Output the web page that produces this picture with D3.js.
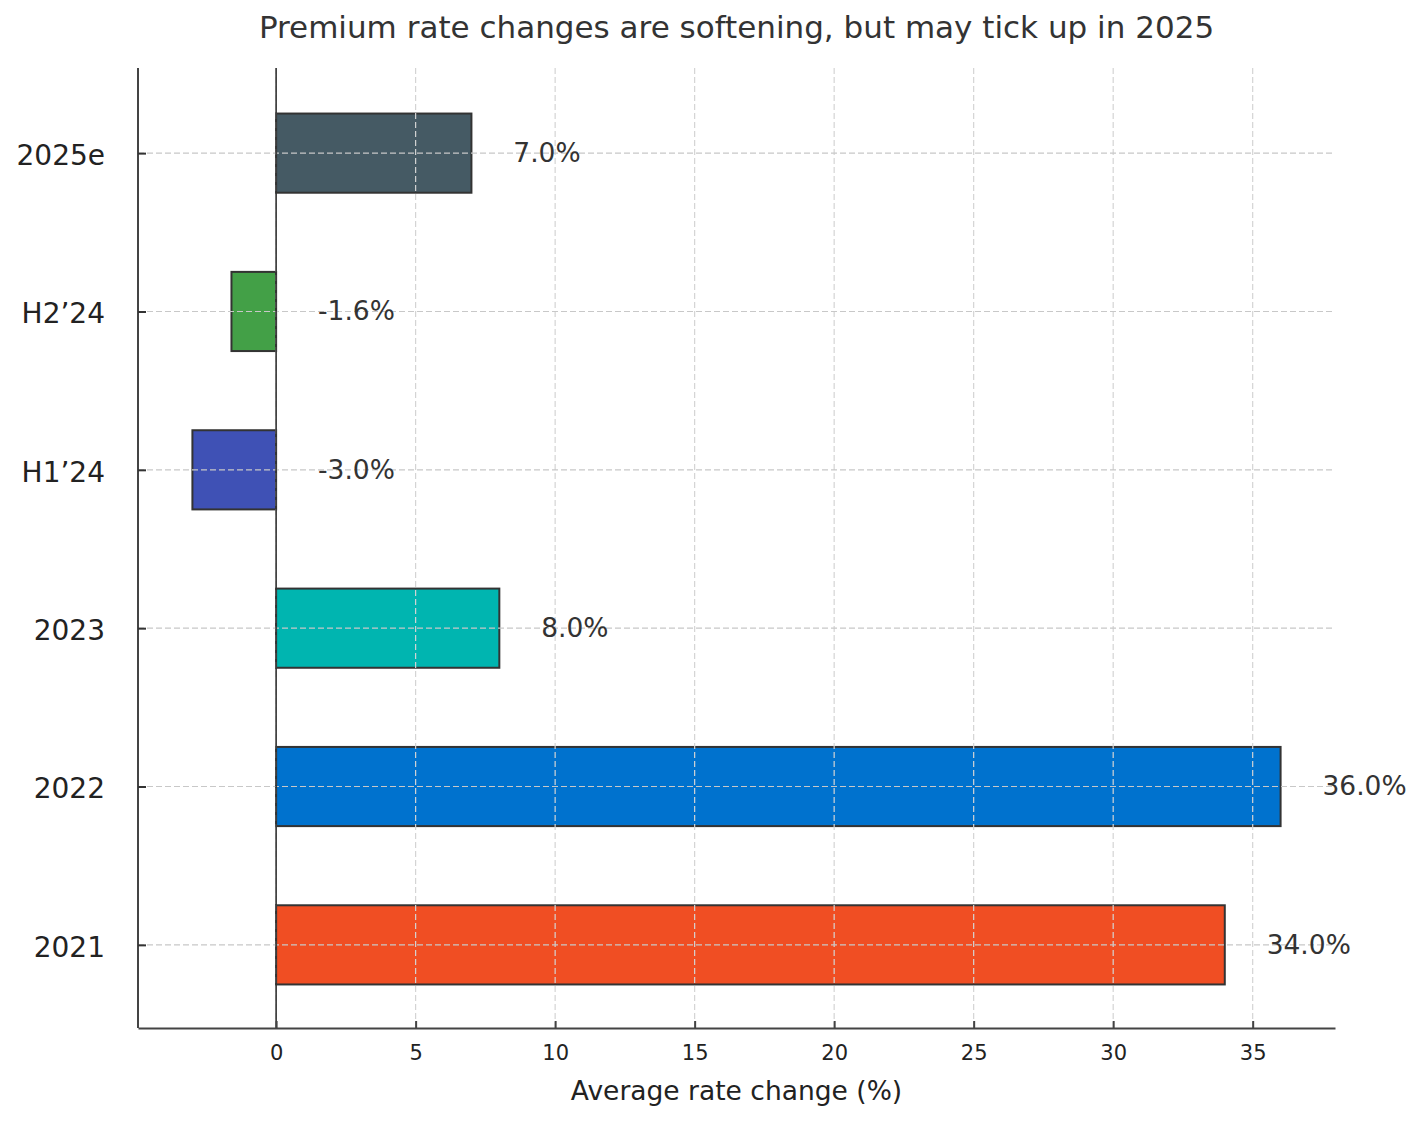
<!DOCTYPE html>
<head>
  <meta charset="utf-8">
  <title>Premium rate changes</title>
  <script src="https://d3js.org/d3.v7.min.js"></script>
  <style>
    body { margin: 0; background: #fff; }
    text { font-family: "DejaVu Sans", sans-serif; }
  </style>
</head>
<body>
  <svg width="1423" height="1121"></svg>

  <script>
  // data, bottom to top
  var periods = ["2021", "2022", "2023", "H1\u201924", "H2\u201924", "2025e"];
  var rates = [34, 36, 8, -3.0, -1.6, 7];
  var barColors = ["#f04e23", "#0072ce", "#00b5b0", "#3f51b5", "#43a047", "#455a64"];
  var xTicks = [0, 5, 10, 15, 20, 25, 30, 35];

  var svg = d3.select("svg");
  var mLeft = 138, mRight = 1335, mTop = 70, mBottom = 1028;

  var x = d3.scaleLinear()
      .domain([-4.95, 37.95])
      .range([mLeft, mRight]);

  // index positions like matplotlib barh
  var y = d3.scaleLinear()
      .domain([-0.525, periods.length - 1 + 0.525])
      .range([mBottom, mTop]);
  var barH = y(0) - y(0.5);

  // bars
  svg.append("g")
    .selectAll("rect")
    .data(rates)
    .enter().append("rect")
      .attr("x", function(d) { return x(Math.min(0, d)); })
      .attr("y", function(d, i) { return y(i) - barH / 2; })
      .attr("width", function(d) { return Math.abs(x(d) - x(0)); })
      .attr("height", barH)
      .attr("fill", function(d, i) { return barColors[i]; })
      .attr("stroke", "#333")
      .attr("stroke-width", 2);

  // grid (drawn over the bars, like the reference)
  var grid = svg.append("g").attr("class", "grid");
  grid.selectAll("line.v")
    .data(xTicks)
    .enter().append("line")
      .attr("class", "v")
      .attr("x1", function(d) { return x(d); })
      .attr("x2", function(d) { return x(d); })
      .attr("y1", mTop - 2).attr("y2", mBottom)
      .attr("stroke", "#d4d4d4")
      .attr("stroke-width", 1.2)
      .attr("stroke-dasharray", "6,3");
  grid.selectAll("line.h")
    .data(periods)
    .enter().append("line")
      .attr("class", "h")
      .attr("x1", mLeft).attr("x2", mRight)
      .attr("y1", function(d, i) { return y(i); })
      .attr("y2", function(d, i) { return y(i); })
      .attr("stroke", "#c8c8c8")
      .attr("stroke-width", 1.2)
      .attr("stroke-dasharray", "6,3");

  // zero line
  svg.append("line")
      .attr("x1", x(0)).attr("x2", x(0))
      .attr("y1", mTop - 2).attr("y2", mBottom)
      .attr("stroke", "#333")
      .attr("stroke-width", 1.6);

  // value labels
  svg.append("g")
    .selectAll("text")
    .data(rates)
    .enter().append("text")
      .attr("x", function(d) { return x(Math.max(d, 0) + 1.5); })
      .attr("y", function(d, i) { return y(i); })
      .attr("dy", "0.33em")
      .attr("font-size", 26.5)
      .attr("fill", "#333")
      .text(function(d) { return d.toFixed(1) + "%"; });

  // axes
  var xAxis = svg.append("g")
      .attr("transform", "translate(0," + mBottom + ")")
      .call(d3.axisBottom(x).tickValues(xTicks).tickSizeInner(-7).tickSizeOuter(0).tickPadding(17));
  xAxis.select(".domain").attr("stroke", "#444").attr("stroke-width", 2);
  xAxis.selectAll(".tick line").attr("stroke", "#444").attr("stroke-width", 2);
  xAxis.selectAll(".tick text")
      .attr("font-family", "DejaVu Sans")
      .attr("font-size", 21)
      .attr("fill", "#222");

  var yAxis = svg.append("g")
      .attr("transform", "translate(" + mLeft + ",0)")
      .call(d3.axisLeft(y).tickValues(d3.range(periods.length))
        .tickFormat(function(i) { return periods[i]; })
        .tickSizeInner(-8).tickSizeOuter(0).tickPadding(33));
  yAxis.select(".domain").attr("stroke", "#444").attr("stroke-width", 2)
      .attr("d", "M0," + mBottom + "V" + (mTop - 2));
  yAxis.selectAll(".tick line").attr("stroke", "#333").attr("stroke-width", 2);
  yAxis.selectAll(".tick text")
      .attr("font-family", "DejaVu Sans")
      .attr("font-size", 28)
      .attr("dy", "0.4em")
      .attr("fill", "#222");

  // title and axis label
  svg.append("text")
      .attr("x", (mLeft + mRight) / 2)
      .attr("y", 38)
      .attr("text-anchor", "middle")
      .attr("font-size", 31)
      .attr("fill", "#333")
      .text("Premium rate changes are softening, but may tick up in 2025");

  svg.append("text")
      .attr("x", (mLeft + mRight) / 2)
      .attr("y", 1100)
      .attr("text-anchor", "middle")
      .attr("font-size", 26.5)
      .attr("fill", "#222")
      .text("Average rate change (%)");
  </script>
</body>
